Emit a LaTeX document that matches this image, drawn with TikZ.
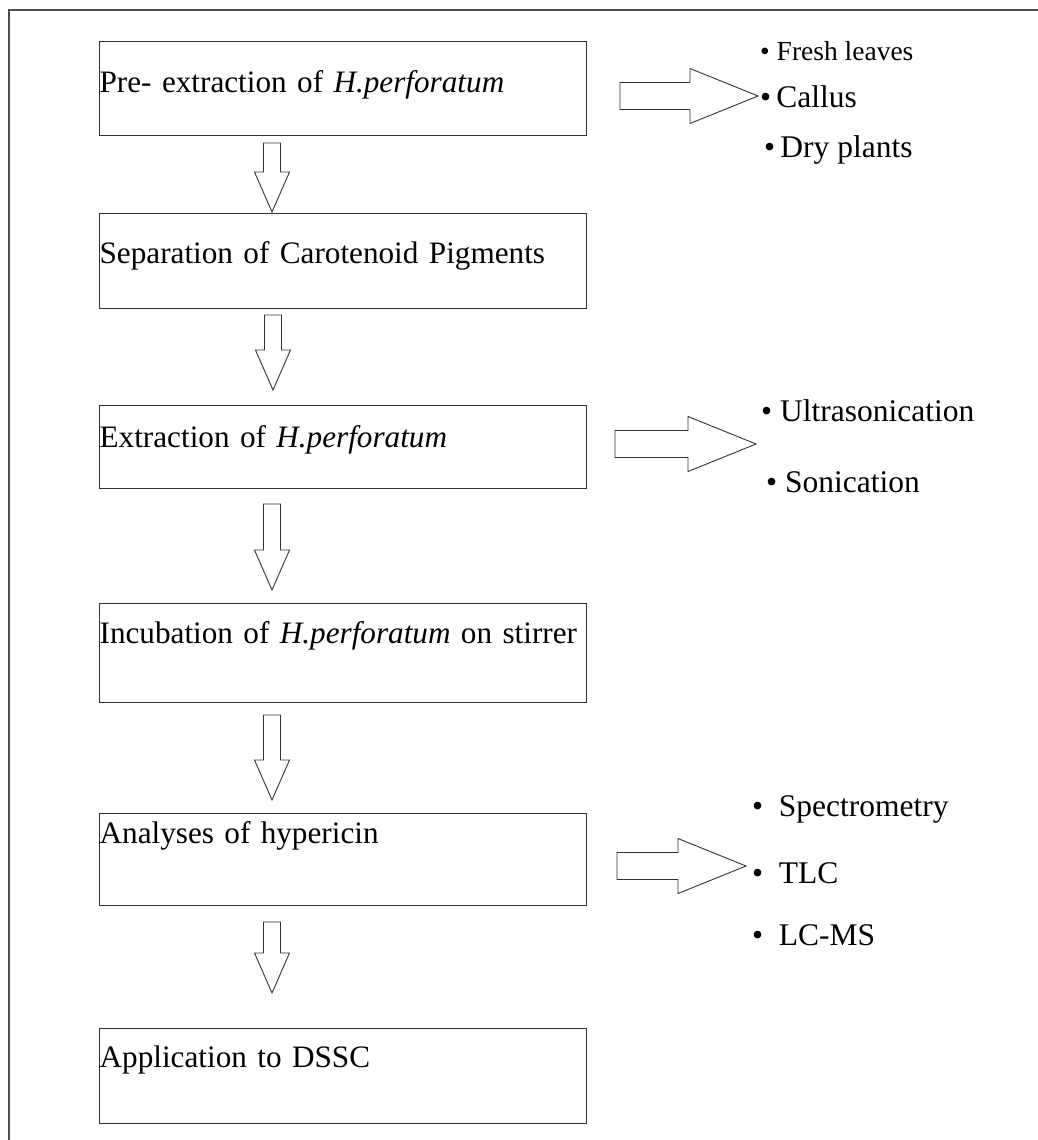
\documentclass[tikz,border=0pt]{standalone}
\usepackage{fontspec}
\setmainfont{Liberation Serif}
\usepackage{tikz}
\usetikzlibrary{calc}

\begin{document}
\begin{tikzpicture}[x=1pt, y=-1pt,
  stage/.style 2 args={draw=black!80, line width=1.3pt, anchor=north west,
    inner sep=0pt, text width=487pt, align=left,
    text height=#1, text depth=#2,
    font=\fontsize{31.2}{36}\selectfont},
  item/.style={anchor=base west, inner sep=0pt,
    font=\fontsize{31.5}{36}\selectfont},
  hollow/.style n args={3}{draw=black!80, line width=0.9pt, to path={
    let \p1=($(\tikztotarget)!#3!(\tikztostart)$) in
    ($(\tikztostart)!#1!90:(\tikztotarget)$) -- ($(\p1)!#1!90:(\tikztotarget)$)
    -- ($(\p1)!#2!90:(\tikztotarget)$) -- (\tikztotarget)
    -- ($(\p1)!#2!-90:(\tikztotarget)$) -- ($(\p1)!#1!-90:(\tikztotarget)$)
    -- ($(\tikztostart)!#1!-90:(\tikztotarget)$) -- cycle}},
]
\useasboundingbox (0,0) rectangle (1038,1140);

% Rahmen
\draw[black!70, line width=1.6pt] (1038,10) -- (9,10) -- (9,1140);

% Schritte
\node[stage={51pt}{43pt}] (pre) at (99,41) {Pre- extraction of \textit{H.perforatum}};
\node[stage={50pt}{45pt}] (sep) at (99,213) {Separation of Carotenoid Pigments};
\node[stage={42pt}{41pt}] (ext) at (99,405) {Extraction of \textit{H.perforatum}};
\node[stage={40pt}{59pt}] (inc) at (99,603) {Incubation of \textit{H.perforatum} on stirrer};
\node[stage={30pt}{62pt}] (ana) at (99,813) {Analyses of hypericin};
\node[stage={39pt}{56pt}] (app) at (99,1028) {Application to DSSC};

% Pfeile nach unten
\coordinate (d1a) at (272,143);  \coordinate (d1b) at (272,212);
\coordinate (d2a) at (273,315);  \coordinate (d2b) at (273,390);
\coordinate (d3a) at (272,504);  \coordinate (d3b) at (272,590);
\coordinate (d4a) at (272,715);  \coordinate (d4b) at (272,800);
\coordinate (d5a) at (272,922);  \coordinate (d5b) at (272,993);
\foreach \i in {1,...,5}
  \draw[hollow={8.5pt}{17.5pt}{40pt}] (d\i a) to (d\i b);

% Pfeile nach rechts
\coordinate (r1a) at (620,96);  \coordinate (r1b) at (758,96);
\coordinate (r2a) at (615,444); \coordinate (r2b) at (756,444);
\coordinate (r3a) at (617,866); \coordinate (r3b) at (746,866);
\foreach \i in {1,2,3}
  \draw[hollow={13.5pt}{27.5pt}{68pt}] (r\i a) to (r\i b);

% Listen
\node[item, font=\fontsize{27.5}{32}\selectfont] (fresh) at (760,60) {\textbullet\ Fresh leaves};
\node[item] (callus) at (760,107) {\textbullet\,Callus};
\node[item] (dry) at (764,157) {\textbullet\,Dry plants};
\node[item] (ultra) at (761,421) {\textbullet\ Ultrasonication};
\node[item] (soni) at (766,492) {\textbullet\ Sonication};
\node[item] (spec) at (752,816) {\textbullet\ \ Spectrometry};
\node[item] (tlc) at (752,883) {\textbullet\ \ TLC};
\node[item] (lcms) at (752,945) {\textbullet\ \ LC-MS};

\end{tikzpicture}
\end{document}
